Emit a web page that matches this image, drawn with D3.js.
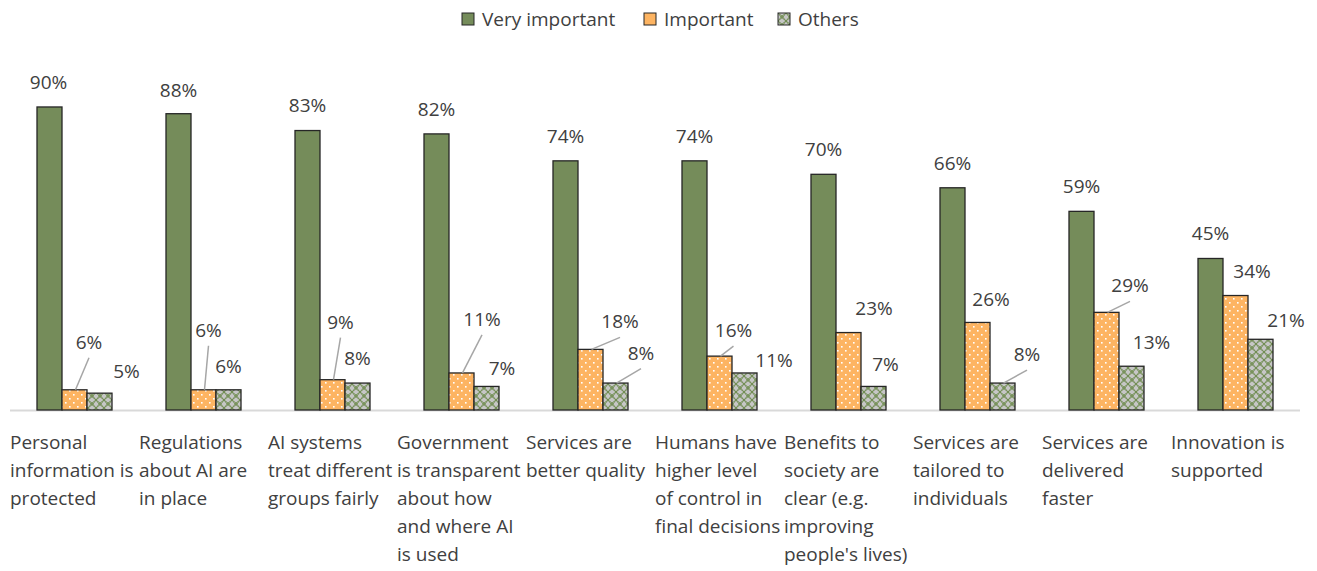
<!DOCTYPE html>
<html>
<head>
<meta charset="utf-8">
<script src="https://cdn.jsdelivr.net/npm/d3@7"></script>
<style>
  html, body { margin: 0; padding: 0; background: #ffffff; }
  svg { display: block; }
  text { font-family: "Open Sans", "Noto Sans", sans-serif; fill: #404040; }
</style>
</head>
<body>
<svg id="chart" width="1317" height="571"></svg>
<script>
// Share of respondents rating each condition (percent)
const categories = [
  ["Personal", "information is", "protected"],
  ["Regulations", "about AI are", "in place"],
  ["AI systems", "treat different", "groups fairly"],
  ["Government", "is transparent", "about how", "and where AI", "is used"],
  ["Services are", "better quality"],
  ["Humans have", "higher level", "of control in", "final decisions"],
  ["Benefits to", "society are", "clear (e.g.", "improving", "people's lives)"],
  ["Services are", "tailored to", "individuals"],
  ["Services are", "delivered", "faster"],
  ["Innovation is", "supported"]
];
const seriesNames = ["Very important", "Important", "Others"];
const veryImportant = [90, 88, 83, 82, 74, 74, 70, 66, 59, 45];
const important     = [6, 6, 9, 11, 18, 16, 23, 26, 29, 34];
const others        = [5, 6, 8, 7, 8, 11, 7, 8, 13, 21];
const seriesValues = [veryImportant, important, others];

// Hand-placed label nudges [dx, dy, leader] relative to the bar's top centre
const labelNudge = [
  [[-1,-25,0],[0,-24,0],[0,-26,0],[0,-25,0],[0,-25,0],[0,-25,0],[0,-25,0],[0,-25,0],[0,-25,0],[0,-25,0]],
  [[14.5,-48,1],[5,-60,1],[8,-58,1],[20.5,-54,1],[29.5,-28,1],[14,-26,1],[25.5,-25,0],[13.5,-23,0],[23.5,-27,1],[16.5,-24.5,0]],
  [[27,-22,0],[0,-24,0],[0,-25.5,0],[15.5,-18,0],[25.5,-30.5,1],[29.5,-13,0],[12,-22,0],[24.5,-29,1],[20,-24.7,0],[25.5,-19,0]]
];

const FONT_SIZE = 19;

const svg = d3.select("#chart");
const defs = svg.append("defs");

// Dotted fill for "Important"
const dots = defs.append("pattern")
  .attr("id", "dots").attr("patternUnits", "userSpaceOnUse")
  .attr("width", 8).attr("height", 8);
dots.append("rect").attr("width", 8).attr("height", 8).attr("fill", "#fdb462");
dots.append("rect").attr("x", 1).attr("y", 2).attr("width", 1.6).attr("height", 1.6).attr("fill", "#ffffff");
dots.append("rect").attr("x", 5).attr("y", 6).attr("width", 1.6).attr("height", 1.6).attr("fill", "#ffffff");

// Lattice fill for "Others"
const lattice = defs.append("pattern")
  .attr("id", "lattice").attr("patternUnits", "userSpaceOnUse")
  .attr("width", 8).attr("height", 8);
lattice.append("rect").attr("width", 8).attr("height", 8).attr("fill", "#c6c6c6");
lattice.append("path")
  .attr("d", "M0,0 Q4,2 8,8 M8,0 Q4,2 0,8 M0,0 Q2,4 8,8 M8,0 Q6,4 0,8")
  .attr("fill", "none").attr("stroke", "#6d8a4e").attr("stroke-width", 0.9);

const fills = ["#758c5a", "url(#dots)", "url(#lattice)"];
const legendFills = ["#758c5a", "#fdb462", "url(#lattice)"];

const baseY = 410;
const x = d3.scaleBand()
  .domain(d3.range(categories.length))
  .range([10, 1300])
  .paddingInner(0.4186)
  .paddingOuter(0.2093);
const xs = d3.scaleBand()
  .domain(d3.range(seriesNames.length))
  .range([0, x.bandwidth()]);
const y = d3.scaleLinear().domain([0, 100]).range([baseY, 73.3]);

// Baseline
svg.append("line")
  .attr("x1", 10).attr("x2", 1300)
  .attr("y1", baseY + 0.5).attr("y2", baseY + 0.5)
  .attr("stroke", "#d9d9d9").attr("stroke-width", 2);

// Bars
const groups = svg.append("g").selectAll("g")
  .data(seriesValues)
  .join("g")
  .attr("fill", (d, i) => fills[i]);

groups.selectAll("rect")
  .data((vals, si) => vals.map((v, ci) => ({ v, ci, si })))
  .join("rect")
  .attr("x", d => x(d.ci) + xs(d.si))
  .attr("y", d => y(d.v))
  .attr("width", xs.bandwidth())
  .attr("height", d => baseY - y(d.v))
  .attr("stroke", "#262626")
  .attr("stroke-width", 1.3);

// Value labels with leader lines
const labelData = [];
seriesValues.forEach((vals, si) => vals.forEach((v, ci) => {
  const n = labelNudge[si][ci];
  const bx = x(ci) + xs(si) + xs.bandwidth() / 2;
  const by = y(v);
  labelData.push({ v, bx, by, lx: bx + n[0], ly: by + n[1], leader: n[2] });
}));

svg.append("g").selectAll("line")
  .data(labelData.filter(d => d.leader))
  .join("line")
  .attr("x1", d => d.lx).attr("y1", d => d.ly + 16)
  .attr("x2", d => d.bx + 1).attr("y2", d => d.by)
  .attr("stroke", "#a6a6a6").attr("stroke-width", 1.5);

svg.append("g").selectAll("text")
  .data(labelData)
  .join("text")
  .attr("x", d => d.lx)
  .attr("y", d => d.ly)
  .attr("text-anchor", "middle")
  .attr("dominant-baseline", "central")
  .attr("font-size", FONT_SIZE)
  .text(d => d.v + "%");

// Category labels
const catText = svg.append("g").selectAll("text")
  .data(categories)
  .join("text")
  .attr("x", (d, i) => x(i) - (x.step() - x.bandwidth()) / 2)
  .attr("y", 449)
  .attr("font-size", FONT_SIZE);
catText.selectAll("tspan")
  .data(d => d)
  .join("tspan")
  .attr("x", function () { return d3.select(this.parentNode).attr("x"); })
  .attr("dy", (d, i) => i === 0 ? 0 : 28)
  .text(d => d);

// Legend
const legendX = [462, 644, 778];
const legend = svg.append("g").selectAll("g")
  .data(seriesNames)
  .join("g")
  .attr("transform", (d, i) => `translate(${legendX[i]},13)`);
legend.append("rect")
  .attr("width", 12).attr("height", 12)
  .attr("fill", (d, i) => legendFills[i])
  .attr("stroke", "#262626").attr("stroke-width", 1);
legend.append("text")
  .attr("x", 20).attr("y", 6)
  .attr("dominant-baseline", "central")
  .attr("font-size", FONT_SIZE)
  .text(d => d);
</script>
</body>
</html>
